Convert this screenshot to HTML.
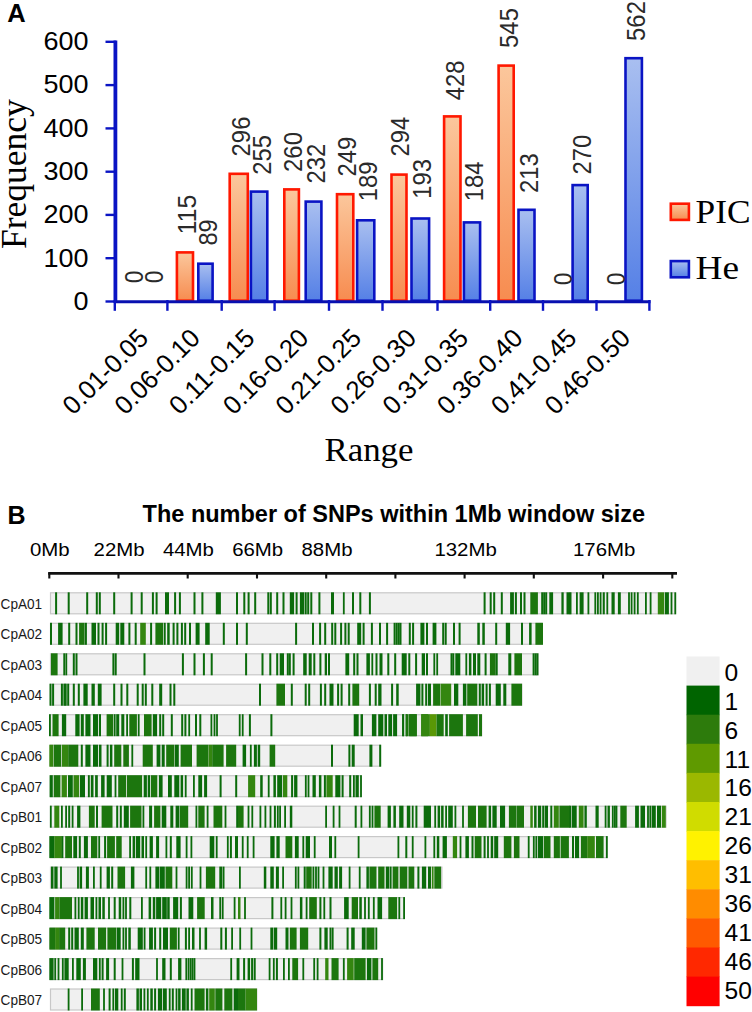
<!DOCTYPE html><html><head><meta charset="utf-8"><style>
html,body{margin:0;padding:0;background:#fff;width:752px;height:1012px;overflow:hidden}
svg{display:block;font-family:"Liberation Sans", sans-serif}
svg text{}
</style></head><body>
<svg width="752" height="1012" viewBox="0 0 752 1012">
<defs>
<linearGradient id="gO" x1="0" y1="0" x2="0" y2="1"><stop offset="0" stop-color="#fbc79c"/><stop offset="1" stop-color="#f78c50"/></linearGradient>
<linearGradient id="gB" x1="0" y1="0" x2="0" y2="1"><stop offset="0" stop-color="#a9bff0"/><stop offset="1" stop-color="#5580e6"/></linearGradient>
</defs>
<rect width="752" height="1012" fill="#fff"/>

<text x="7.2" y="21.5" font-size="25.5" font-weight="bold">A</text>
<text x="88.6" y="309.8" font-size="25" text-anchor="end" textLength="15.0" lengthAdjust="spacingAndGlyphs">0</text>
<text x="88.6" y="266.5" font-size="25" text-anchor="end" textLength="45.0" lengthAdjust="spacingAndGlyphs">100</text>
<text x="88.6" y="223.2" font-size="25" text-anchor="end" textLength="45.0" lengthAdjust="spacingAndGlyphs">200</text>
<text x="88.6" y="180.0" font-size="25" text-anchor="end" textLength="45.0" lengthAdjust="spacingAndGlyphs">300</text>
<text x="88.6" y="136.7" font-size="25" text-anchor="end" textLength="45.0" lengthAdjust="spacingAndGlyphs">400</text>
<text x="88.6" y="93.4" font-size="25" text-anchor="end" textLength="45.0" lengthAdjust="spacingAndGlyphs">500</text>
<text x="88.6" y="50.1" font-size="25" text-anchor="end" textLength="45.0" lengthAdjust="spacingAndGlyphs">600</text>
<text transform="translate(26.1,249.1) rotate(-90)" font-size="35.5" textLength="150" lengthAdjust="spacingAndGlyphs" font-family="Liberation Serif">Frequency</text>
<rect x="176.9" y="252.4" width="16.1" height="48.3" fill="url(#gO)" stroke="#ff1800" stroke-width="2.6"/>
<rect x="198.3" y="263.7" width="14.3" height="37.0" fill="url(#gB)" stroke="#0a14c4" stroke-width="2.6"/>
<rect x="229.7" y="173.8" width="18.1" height="126.9" fill="url(#gO)" stroke="#ff1800" stroke-width="2.6"/>
<rect x="250.9" y="191.6" width="16.4" height="109.1" fill="url(#gB)" stroke="#0a14c4" stroke-width="2.6"/>
<rect x="284.3" y="189.4" width="14.6" height="111.3" fill="url(#gO)" stroke="#ff1800" stroke-width="2.6"/>
<rect x="305.7" y="201.6" width="15.7" height="99.1" fill="url(#gB)" stroke="#0a14c4" stroke-width="2.6"/>
<rect x="337.0" y="194.2" width="16.3" height="106.5" fill="url(#gO)" stroke="#ff1800" stroke-width="2.6"/>
<rect x="357.1" y="220.3" width="17.2" height="80.4" fill="url(#gB)" stroke="#0a14c4" stroke-width="2.6"/>
<rect x="391.5" y="174.6" width="15.0" height="126.1" fill="url(#gO)" stroke="#ff1800" stroke-width="2.6"/>
<rect x="411.5" y="218.5" width="17.6" height="82.2" fill="url(#gB)" stroke="#0a14c4" stroke-width="2.6"/>
<rect x="444.1" y="116.4" width="16.4" height="184.3" fill="url(#gO)" stroke="#ff1800" stroke-width="2.6"/>
<rect x="463.9" y="222.4" width="16.2" height="78.3" fill="url(#gB)" stroke="#0a14c4" stroke-width="2.6"/>
<rect x="498.6" y="65.6" width="15.1" height="235.1" fill="url(#gO)" stroke="#ff1800" stroke-width="2.6"/>
<rect x="518.5" y="209.8" width="16.0" height="90.9" fill="url(#gB)" stroke="#0a14c4" stroke-width="2.6"/>
<rect x="572.6" y="185.1" width="15.1" height="115.6" fill="url(#gB)" stroke="#0a14c4" stroke-width="2.6"/>
<rect x="625.5" y="58.2" width="16.4" height="242.5" fill="url(#gB)" stroke="#0a14c4" stroke-width="2.6"/>
<text transform="translate(142.8,283.3) rotate(-90)" font-size="25" fill="#2a2a2a" textLength="12.6" lengthAdjust="spacingAndGlyphs">0</text>
<text transform="translate(162.7,283.3) rotate(-90)" font-size="25" fill="#2a2a2a" textLength="12.6" lengthAdjust="spacingAndGlyphs">0</text>
<text transform="translate(195.5,234.5) rotate(-90)" font-size="25" fill="#2a2a2a" textLength="39.8" lengthAdjust="spacingAndGlyphs">115</text>
<text transform="translate(217.1,245.6) rotate(-90)" font-size="25" fill="#2a2a2a" textLength="26.2" lengthAdjust="spacingAndGlyphs">89</text>
<text transform="translate(249.7,156.4) rotate(-90)" font-size="25" fill="#2a2a2a" textLength="39.8" lengthAdjust="spacingAndGlyphs">296</text>
<text transform="translate(271.0,174.7) rotate(-90)" font-size="25" fill="#2a2a2a" textLength="39.8" lengthAdjust="spacingAndGlyphs">255</text>
<text transform="translate(302.1,171.9) rotate(-90)" font-size="25" fill="#2a2a2a" textLength="39.8" lengthAdjust="spacingAndGlyphs">260</text>
<text transform="translate(324.5,183.6) rotate(-90)" font-size="25" fill="#2a2a2a" textLength="39.8" lengthAdjust="spacingAndGlyphs">232</text>
<text transform="translate(356.4,176.5) rotate(-90)" font-size="25" fill="#2a2a2a" textLength="39.8" lengthAdjust="spacingAndGlyphs">249</text>
<text transform="translate(376.7,201.2) rotate(-90)" font-size="25" fill="#2a2a2a" textLength="39.8" lengthAdjust="spacingAndGlyphs">189</text>
<text transform="translate(409.4,156.5) rotate(-90)" font-size="25" fill="#2a2a2a" textLength="39.8" lengthAdjust="spacingAndGlyphs">294</text>
<text transform="translate(431.1,198.8) rotate(-90)" font-size="25" fill="#2a2a2a" textLength="39.8" lengthAdjust="spacingAndGlyphs">193</text>
<text transform="translate(463.7,100.3) rotate(-90)" font-size="25" fill="#2a2a2a" textLength="39.8" lengthAdjust="spacingAndGlyphs">428</text>
<text transform="translate(483.1,201.2) rotate(-90)" font-size="25" fill="#2a2a2a" textLength="39.8" lengthAdjust="spacingAndGlyphs">184</text>
<text transform="translate(518.4,47.9) rotate(-90)" font-size="25" fill="#2a2a2a" textLength="39.8" lengthAdjust="spacingAndGlyphs">545</text>
<text transform="translate(538.1,193.0) rotate(-90)" font-size="25" fill="#2a2a2a" textLength="39.8" lengthAdjust="spacingAndGlyphs">213</text>
<text transform="translate(571.5,285.3) rotate(-90)" font-size="25" fill="#2a2a2a" textLength="12.6" lengthAdjust="spacingAndGlyphs">0</text>
<text transform="translate(591.1,174.6) rotate(-90)" font-size="25" fill="#2a2a2a" textLength="39.8" lengthAdjust="spacingAndGlyphs">270</text>
<text transform="translate(624.7,285.3) rotate(-90)" font-size="25" fill="#2a2a2a" textLength="12.6" lengthAdjust="spacingAndGlyphs">0</text>
<text transform="translate(644.5,40.9) rotate(-90)" font-size="25" fill="#2a2a2a" textLength="39.8" lengthAdjust="spacingAndGlyphs">562</text>
<line x1="115.4" y1="40.6" x2="115.4" y2="303" stroke="#0a14c4" stroke-width="3.8"/>
<line x1="105.5" y1="301.5" x2="116" y2="301.5" stroke="#0a14c4" stroke-width="2.4"/>
<line x1="105.5" y1="258.2" x2="116" y2="258.2" stroke="#0a14c4" stroke-width="2.4"/>
<line x1="105.5" y1="214.9" x2="116" y2="214.9" stroke="#0a14c4" stroke-width="2.4"/>
<line x1="105.5" y1="171.7" x2="116" y2="171.7" stroke="#0a14c4" stroke-width="2.4"/>
<line x1="105.5" y1="128.4" x2="116" y2="128.4" stroke="#0a14c4" stroke-width="2.4"/>
<line x1="105.5" y1="85.1" x2="116" y2="85.1" stroke="#0a14c4" stroke-width="2.4"/>
<line x1="105.5" y1="41.8" x2="116" y2="41.8" stroke="#0a14c4" stroke-width="2.4"/>
<line x1="114" y1="301.8" x2="650.5" y2="301.8" stroke="#0810b0" stroke-width="3"/>
<line x1="114.8" y1="300" x2="114.8" y2="310.8" stroke="#0a14c4" stroke-width="2.4"/>
<line x1="167.4" y1="300" x2="167.4" y2="310.8" stroke="#0a14c4" stroke-width="2.4"/>
<line x1="221.7" y1="300" x2="221.7" y2="310.8" stroke="#0a14c4" stroke-width="2.4"/>
<line x1="274.6" y1="300" x2="274.6" y2="310.8" stroke="#0a14c4" stroke-width="2.4"/>
<line x1="329" y1="300" x2="329" y2="310.8" stroke="#0a14c4" stroke-width="2.4"/>
<line x1="382.5" y1="300" x2="382.5" y2="310.8" stroke="#0a14c4" stroke-width="2.4"/>
<line x1="437.5" y1="300" x2="437.5" y2="310.8" stroke="#0a14c4" stroke-width="2.4"/>
<line x1="490.2" y1="300" x2="490.2" y2="310.8" stroke="#0a14c4" stroke-width="2.4"/>
<line x1="543.0" y1="300" x2="543.0" y2="310.8" stroke="#0a14c4" stroke-width="2.4"/>
<line x1="596.5" y1="300" x2="596.5" y2="310.8" stroke="#0a14c4" stroke-width="2.4"/>
<line x1="649.4" y1="300" x2="649.4" y2="310.8" stroke="#0a14c4" stroke-width="2.4"/>
<text transform="translate(149.7,339.7) rotate(-45)" font-size="26" text-anchor="end" textLength="108" lengthAdjust="spacingAndGlyphs">0.01-0.05</text>
<text transform="translate(201.6,339.7) rotate(-45)" font-size="26" text-anchor="end" textLength="108" lengthAdjust="spacingAndGlyphs">0.06-0.10</text>
<text transform="translate(256.2,339.7) rotate(-45)" font-size="26" text-anchor="end" textLength="108" lengthAdjust="spacingAndGlyphs">0.11-0.15</text>
<text transform="translate(310.0,339.7) rotate(-45)" font-size="26" text-anchor="end" textLength="108" lengthAdjust="spacingAndGlyphs">0.16-0.20</text>
<text transform="translate(362.7,339.7) rotate(-45)" font-size="26" text-anchor="end" textLength="108" lengthAdjust="spacingAndGlyphs">0.21-0.25</text>
<text transform="translate(417.7,339.7) rotate(-45)" font-size="26" text-anchor="end" textLength="108" lengthAdjust="spacingAndGlyphs">0.26-0.30</text>
<text transform="translate(469.7,339.7) rotate(-45)" font-size="26" text-anchor="end" textLength="108" lengthAdjust="spacingAndGlyphs">0.31-0.35</text>
<text transform="translate(524.2,339.7) rotate(-45)" font-size="26" text-anchor="end" textLength="108" lengthAdjust="spacingAndGlyphs">0.36-0.40</text>
<text transform="translate(578.0,339.7) rotate(-45)" font-size="26" text-anchor="end" textLength="108" lengthAdjust="spacingAndGlyphs">0.41-0.45</text>
<text transform="translate(631.9,339.7) rotate(-45)" font-size="26" text-anchor="end" textLength="108" lengthAdjust="spacingAndGlyphs">0.46-0.50</text>
<text x="324.5" y="461" font-size="34" font-family="Liberation Serif" textLength="89" lengthAdjust="spacingAndGlyphs">Range</text>
<rect x="670.8" y="203.7" width="18.1" height="16.2" fill="url(#gO)" stroke="#ff1800" stroke-width="2.6"/>
<rect x="670.8" y="261.1" width="18.1" height="16.2" fill="url(#gB)" stroke="#0a14c4" stroke-width="2.6"/>
<text x="695.5" y="223.1" font-size="33.7" font-family="Liberation Serif" textLength="55" lengthAdjust="spacingAndGlyphs">PIC</text>
<text x="695.5" y="278.9" font-size="33.7" font-family="Liberation Serif" textLength="43.5" lengthAdjust="spacingAndGlyphs">He</text>
<text x="7.4" y="524" font-size="25" font-weight="bold">B</text>
<text x="142.6" y="522" font-size="23.5" font-weight="bold" textLength="502.6" lengthAdjust="spacingAndGlyphs">The number of SNPs within 1Mb window size</text>
<text x="49.8" y="555.6" font-size="18.3" text-anchor="middle" textLength="39.7" lengthAdjust="spacingAndGlyphs">0Mb</text>
<text x="119.1" y="555.6" font-size="18.3" text-anchor="middle" textLength="51.0" lengthAdjust="spacingAndGlyphs">22Mb</text>
<text x="188.4" y="555.6" font-size="18.3" text-anchor="middle" textLength="51.0" lengthAdjust="spacingAndGlyphs">44Mb</text>
<text x="257.7" y="555.6" font-size="18.3" text-anchor="middle" textLength="51.0" lengthAdjust="spacingAndGlyphs">66Mb</text>
<text x="327.0" y="555.6" font-size="18.3" text-anchor="middle" textLength="51.0" lengthAdjust="spacingAndGlyphs">88Mb</text>
<text x="465.6" y="555.6" font-size="18.3" text-anchor="middle" textLength="62.4" lengthAdjust="spacingAndGlyphs">132Mb</text>
<text x="604.2" y="555.6" font-size="18.3" text-anchor="middle" textLength="62.4" lengthAdjust="spacingAndGlyphs">176Mb</text>
<line x1="48.2" y1="573.3" x2="677" y2="573.3" stroke="#111" stroke-width="2.7"/>
<line x1="49.3" y1="572.5" x2="49.3" y2="578.5" stroke="#111" stroke-width="2.1"/>
<line x1="118.5" y1="572.5" x2="118.5" y2="578.5" stroke="#111" stroke-width="2.1"/>
<line x1="187.7" y1="572.5" x2="187.7" y2="578.5" stroke="#111" stroke-width="2.1"/>
<line x1="257.0" y1="572.5" x2="257.0" y2="578.5" stroke="#111" stroke-width="2.1"/>
<line x1="326.2" y1="572.5" x2="326.2" y2="578.5" stroke="#111" stroke-width="2.1"/>
<line x1="395.4" y1="572.5" x2="395.4" y2="578.5" stroke="#111" stroke-width="2.1"/>
<line x1="464.6" y1="572.5" x2="464.6" y2="578.5" stroke="#111" stroke-width="2.1"/>
<line x1="533.8" y1="572.5" x2="533.8" y2="578.5" stroke="#111" stroke-width="2.1"/>
<line x1="603.1" y1="572.5" x2="603.1" y2="578.5" stroke="#111" stroke-width="2.1"/>
<line x1="672.3" y1="572.5" x2="672.3" y2="578.5" stroke="#111" stroke-width="2.1"/>
<text x="0.6" y="608.7" font-size="14.2" fill="#1a1a1a" textLength="41.6" lengthAdjust="spacingAndGlyphs">CpA01</text>
<rect x="50.5" y="592.8" width="624.6" height="21" fill="#f0f0f0" stroke="#c8c8c8" stroke-width="1.2"/>
<rect x="55.1" y="592.3" width="2.0" height="22" fill="#0b6b0b"/>
<rect x="67.7" y="592.3" width="2.0" height="22" fill="#0b6b0b"/>
<rect x="86.2" y="592.3" width="2.0" height="22" fill="#0b6b0b"/>
<rect x="95.8" y="592.3" width="2.0" height="22" fill="#0b6b0b"/>
<rect x="98.8" y="592.3" width="2.0" height="22" fill="#0b6b0b"/>
<rect x="113.2" y="592.3" width="2.0" height="22" fill="#0b6b0b"/>
<rect x="130.6" y="592.3" width="2.0" height="22" fill="#0b6b0b"/>
<rect x="140.7" y="592.3" width="2.0" height="22" fill="#0b6b0b"/>
<rect x="151.9" y="592.3" width="2.0" height="22" fill="#0b6b0b"/>
<rect x="155.6" y="592.3" width="2.0" height="22" fill="#0b6b0b"/>
<rect x="165.0" y="592.3" width="2.0" height="22" fill="#0b6b0b"/>
<rect x="167.0" y="592.3" width="2.0" height="22" fill="#0b6b0b"/>
<rect x="174.1" y="592.3" width="2.0" height="22" fill="#0b6b0b"/>
<rect x="178.9" y="592.3" width="2.0" height="22" fill="#0b6b0b"/>
<rect x="193.5" y="592.3" width="2.0" height="22" fill="#0b6b0b"/>
<rect x="201.4" y="592.3" width="2.0" height="22" fill="#0b6b0b"/>
<rect x="215.8" y="592.3" width="5.1" height="22" fill="#0b6b0b"/>
<rect x="236.0" y="592.3" width="2.0" height="22" fill="#0b6b0b"/>
<rect x="243.3" y="592.3" width="2.0" height="22" fill="#0b6b0b"/>
<rect x="247.6" y="592.3" width="2.0" height="22" fill="#0b6b0b"/>
<rect x="254.2" y="592.3" width="2.0" height="22" fill="#0b6b0b"/>
<rect x="267.3" y="592.3" width="2.0" height="22" fill="#0b6b0b"/>
<rect x="269.8" y="592.3" width="2.0" height="22" fill="#0b6b0b"/>
<rect x="276.2" y="592.3" width="2.0" height="22" fill="#0b6b0b"/>
<rect x="282.5" y="592.3" width="2.0" height="22" fill="#0b6b0b"/>
<rect x="289.8" y="592.3" width="4.3" height="22" fill="#0b6b0b"/>
<rect x="295.6" y="592.3" width="2.0" height="22" fill="#0b6b0b"/>
<rect x="299.9" y="592.3" width="4.3" height="22" fill="#0b6b0b"/>
<rect x="304.7" y="592.3" width="2.0" height="22" fill="#0b6b0b"/>
<rect x="307.2" y="592.3" width="2.0" height="22" fill="#0b6b0b"/>
<rect x="310.3" y="592.3" width="2.0" height="22" fill="#0b6b0b"/>
<rect x="318.4" y="592.3" width="2.0" height="22" fill="#0b6b0b"/>
<rect x="331.0" y="592.3" width="3.0" height="22" fill="#0b6b0b"/>
<rect x="342.9" y="592.3" width="1.8" height="22" fill="#0b6b0b"/>
<rect x="352.0" y="592.3" width="2.0" height="22" fill="#0b6b0b"/>
<rect x="359.3" y="592.3" width="2.0" height="22" fill="#0b6b0b"/>
<rect x="368.9" y="592.3" width="2.0" height="22" fill="#0b6b0b"/>
<rect x="483.6" y="592.3" width="2.0" height="22" fill="#0b6b0b"/>
<rect x="489.7" y="592.3" width="2.0" height="22" fill="#0b6b0b"/>
<rect x="493.2" y="592.3" width="2.0" height="22" fill="#0b6b0b"/>
<rect x="500.8" y="592.3" width="2.0" height="22" fill="#0b6b0b"/>
<rect x="510.1" y="592.3" width="3.8" height="22" fill="#0b6b0b"/>
<rect x="514.9" y="592.3" width="2.0" height="22" fill="#0b6b0b"/>
<rect x="520.0" y="592.3" width="2.0" height="22" fill="#0b6b0b"/>
<rect x="523.5" y="592.3" width="2.0" height="22" fill="#0b6b0b"/>
<rect x="530.3" y="592.3" width="7.6" height="22" fill="#1c760e"/>
<rect x="541.2" y="592.3" width="2.0" height="22" fill="#0b6b0b"/>
<rect x="543.2" y="592.3" width="2.0" height="22" fill="#0b6b0b"/>
<rect x="545.2" y="592.3" width="2.0" height="22" fill="#0b6b0b"/>
<rect x="549.3" y="592.3" width="3.8" height="22" fill="#0b6b0b"/>
<rect x="561.4" y="592.3" width="2.3" height="22" fill="#0b6b0b"/>
<rect x="566.5" y="592.3" width="3.8" height="22" fill="#0b6b0b"/>
<rect x="569.7" y="592.3" width="1.8" height="22" fill="#0b6b0b"/>
<rect x="576.0" y="592.3" width="1.8" height="22" fill="#0b6b0b"/>
<rect x="579.6" y="592.3" width="4.0" height="22" fill="#0b6b0b"/>
<rect x="587.5" y="592.3" width="1.8" height="22" fill="#0b6b0b"/>
<rect x="594.4" y="592.3" width="1.8" height="22" fill="#0b6b0b"/>
<rect x="597.0" y="592.3" width="1.8" height="22" fill="#0b6b0b"/>
<rect x="599.7" y="592.3" width="1.8" height="22" fill="#0b6b0b"/>
<rect x="602.7" y="592.3" width="2.1" height="22" fill="#0b6b0b"/>
<rect x="606.4" y="592.3" width="1.8" height="22" fill="#0b6b0b"/>
<rect x="611.5" y="592.3" width="3.2" height="22" fill="#0b6b0b"/>
<rect x="617.9" y="592.3" width="2.9" height="22" fill="#0b6b0b"/>
<rect x="628.1" y="592.3" width="1.8" height="22" fill="#0b6b0b"/>
<rect x="630.7" y="592.3" width="1.8" height="22" fill="#0b6b0b"/>
<rect x="633.7" y="592.3" width="1.8" height="22" fill="#0b6b0b"/>
<rect x="636.9" y="592.3" width="1.8" height="22" fill="#0b6b0b"/>
<rect x="645.0" y="592.3" width="1.8" height="22" fill="#0b6b0b"/>
<rect x="649.7" y="592.3" width="1.8" height="22" fill="#0b6b0b"/>
<rect x="657.8" y="592.3" width="6.4" height="22" fill="#348610"/>
<rect x="664.9" y="592.3" width="4.0" height="22" fill="#0b6b0b"/>
<rect x="670.6" y="592.3" width="1.8" height="22" fill="#0b6b0b"/>
<rect x="674.4" y="592.3" width="1.8" height="22" fill="#0b6b0b"/>
<text x="0.6" y="639.2" font-size="14.2" fill="#1a1a1a" textLength="41.6" lengthAdjust="spacingAndGlyphs">CpA02</text>
<rect x="50.5" y="623.3" width="491.5" height="21" fill="#f0f0f0" stroke="#c8c8c8" stroke-width="1.2"/>
<rect x="50.0" y="622.8" width="2.0" height="22" fill="#0b6b0b"/>
<rect x="58.1" y="622.8" width="4.5" height="22" fill="#0b6b0b"/>
<rect x="68.2" y="622.8" width="2.0" height="22" fill="#0b6b0b"/>
<rect x="75.5" y="622.8" width="2.0" height="22" fill="#0b6b0b"/>
<rect x="79.1" y="622.8" width="5.5" height="22" fill="#1c760e"/>
<rect x="84.9" y="622.8" width="2.0" height="22" fill="#0b6b0b"/>
<rect x="91.5" y="622.8" width="4.5" height="22" fill="#0b6b0b"/>
<rect x="97.5" y="622.8" width="2.0" height="22" fill="#0b6b0b"/>
<rect x="101.6" y="622.8" width="2.0" height="22" fill="#0b6b0b"/>
<rect x="105.1" y="622.8" width="2.0" height="22" fill="#0b6b0b"/>
<rect x="115.7" y="622.8" width="3.5" height="22" fill="#0b6b0b"/>
<rect x="120.3" y="622.8" width="4.0" height="22" fill="#0b6b0b"/>
<rect x="128.4" y="622.8" width="2.0" height="22" fill="#0b6b0b"/>
<rect x="134.7" y="622.8" width="2.0" height="22" fill="#0b6b0b"/>
<rect x="140.2" y="622.8" width="5.6" height="22" fill="#348610"/>
<rect x="150.1" y="622.8" width="2.0" height="22" fill="#0b6b0b"/>
<rect x="155.4" y="622.8" width="7.6" height="22" fill="#1c760e"/>
<rect x="163.7" y="622.8" width="2.0" height="22" fill="#0b6b0b"/>
<rect x="167.2" y="622.8" width="2.5" height="22" fill="#0b6b0b"/>
<rect x="172.6" y="622.8" width="2.0" height="22" fill="#0b6b0b"/>
<rect x="176.4" y="622.8" width="2.0" height="22" fill="#0b6b0b"/>
<rect x="180.9" y="622.8" width="2.0" height="22" fill="#0b6b0b"/>
<rect x="184.2" y="622.8" width="2.0" height="22" fill="#0b6b0b"/>
<rect x="189.0" y="622.8" width="2.0" height="22" fill="#0b6b0b"/>
<rect x="195.6" y="622.8" width="4.0" height="22" fill="#0b6b0b"/>
<rect x="205.2" y="622.8" width="4.5" height="22" fill="#0b6b0b"/>
<rect x="222.8" y="622.8" width="2.0" height="22" fill="#0b6b0b"/>
<rect x="236.0" y="622.8" width="2.0" height="22" fill="#0b6b0b"/>
<rect x="245.8" y="622.8" width="2.0" height="22" fill="#0b6b0b"/>
<rect x="295.1" y="622.8" width="2.0" height="22" fill="#0b6b0b"/>
<rect x="312.0" y="622.8" width="2.0" height="22" fill="#0b6b0b"/>
<rect x="319.1" y="622.8" width="2.0" height="22" fill="#0b6b0b"/>
<rect x="324.2" y="622.8" width="2.0" height="22" fill="#0b6b0b"/>
<rect x="331.2" y="622.8" width="2.0" height="22" fill="#0b6b0b"/>
<rect x="334.3" y="622.8" width="2.0" height="22" fill="#0b6b0b"/>
<rect x="340.1" y="622.8" width="2.0" height="22" fill="#0b6b0b"/>
<rect x="344.4" y="622.8" width="2.0" height="22" fill="#0b6b0b"/>
<rect x="347.7" y="622.8" width="2.0" height="22" fill="#0b6b0b"/>
<rect x="357.2" y="622.8" width="4.0" height="22" fill="#0b6b0b"/>
<rect x="362.6" y="622.8" width="2.0" height="22" fill="#0b6b0b"/>
<rect x="370.9" y="622.8" width="2.0" height="22" fill="#0b6b0b"/>
<rect x="379.0" y="622.8" width="2.0" height="22" fill="#0b6b0b"/>
<rect x="386.1" y="622.8" width="2.0" height="22" fill="#0b6b0b"/>
<rect x="393.6" y="622.8" width="2.0" height="22" fill="#0b6b0b"/>
<rect x="395.7" y="622.8" width="2.0" height="22" fill="#0b6b0b"/>
<rect x="397.7" y="622.8" width="2.0" height="22" fill="#0b6b0b"/>
<rect x="399.5" y="622.8" width="2.0" height="22" fill="#0b6b0b"/>
<rect x="408.8" y="622.8" width="2.0" height="22" fill="#0b6b0b"/>
<rect x="412.1" y="622.8" width="2.0" height="22" fill="#0b6b0b"/>
<rect x="420.4" y="622.8" width="4.0" height="22" fill="#0b6b0b"/>
<rect x="426.0" y="622.8" width="2.0" height="22" fill="#0b6b0b"/>
<rect x="432.6" y="622.8" width="3.8" height="22" fill="#0b6b0b"/>
<rect x="442.2" y="622.8" width="2.0" height="22" fill="#0b6b0b"/>
<rect x="444.7" y="622.8" width="2.0" height="22" fill="#0b6b0b"/>
<rect x="453.0" y="622.8" width="2.0" height="22" fill="#0b6b0b"/>
<rect x="458.6" y="622.8" width="2.0" height="22" fill="#0b6b0b"/>
<rect x="477.3" y="622.8" width="2.5" height="22" fill="#0b6b0b"/>
<rect x="482.3" y="622.8" width="2.5" height="22" fill="#0b6b0b"/>
<rect x="495.2" y="622.8" width="2.0" height="22" fill="#0b6b0b"/>
<rect x="505.8" y="622.8" width="4.3" height="22" fill="#0b6b0b"/>
<rect x="521.0" y="622.8" width="2.0" height="22" fill="#0b6b0b"/>
<rect x="529.1" y="622.8" width="2.5" height="22" fill="#0b6b0b"/>
<rect x="535.4" y="622.8" width="7.6" height="22" fill="#1c760e"/>
<text x="0.6" y="669.7" font-size="14.2" fill="#1a1a1a" textLength="41.6" lengthAdjust="spacingAndGlyphs">CpA03</text>
<rect x="50.5" y="653.8" width="487.7" height="21" fill="#f0f0f0" stroke="#c8c8c8" stroke-width="1.2"/>
<rect x="51.0" y="653.3" width="6.6" height="22" fill="#1c760e"/>
<rect x="63.3" y="653.3" width="1.8" height="22" fill="#0b6b0b"/>
<rect x="65.4" y="653.3" width="1.8" height="22" fill="#0b6b0b"/>
<rect x="72.8" y="653.3" width="2.0" height="22" fill="#0b6b0b"/>
<rect x="75.5" y="653.3" width="2.0" height="22" fill="#0b6b0b"/>
<rect x="112.4" y="653.3" width="2.0" height="22" fill="#0b6b0b"/>
<rect x="114.7" y="653.3" width="2.0" height="22" fill="#0b6b0b"/>
<rect x="143.5" y="653.3" width="2.0" height="22" fill="#0b6b0b"/>
<rect x="181.9" y="653.3" width="2.0" height="22" fill="#0b6b0b"/>
<rect x="193.5" y="653.3" width="2.0" height="22" fill="#0b6b0b"/>
<rect x="202.9" y="653.3" width="2.0" height="22" fill="#0b6b0b"/>
<rect x="210.7" y="653.3" width="2.0" height="22" fill="#0b6b0b"/>
<rect x="245.1" y="653.3" width="2.0" height="22" fill="#0b6b0b"/>
<rect x="261.5" y="653.3" width="2.0" height="22" fill="#0b6b0b"/>
<rect x="269.3" y="653.3" width="2.0" height="22" fill="#0b6b0b"/>
<rect x="276.2" y="653.3" width="2.0" height="22" fill="#0b6b0b"/>
<rect x="279.7" y="653.3" width="4.3" height="22" fill="#0b6b0b"/>
<rect x="286.8" y="653.3" width="2.0" height="22" fill="#0b6b0b"/>
<rect x="288.8" y="653.3" width="2.0" height="22" fill="#0b6b0b"/>
<rect x="292.6" y="653.3" width="2.0" height="22" fill="#0b6b0b"/>
<rect x="303.2" y="653.3" width="3.5" height="22" fill="#0b6b0b"/>
<rect x="308.7" y="653.3" width="3.0" height="22" fill="#0b6b0b"/>
<rect x="313.3" y="653.3" width="2.0" height="22" fill="#0b6b0b"/>
<rect x="319.4" y="653.3" width="2.0" height="22" fill="#0b6b0b"/>
<rect x="324.7" y="653.3" width="2.3" height="22" fill="#0b6b0b"/>
<rect x="328.0" y="653.3" width="2.0" height="22" fill="#0b6b0b"/>
<rect x="345.4" y="653.3" width="3.8" height="22" fill="#0b6b0b"/>
<rect x="353.2" y="653.3" width="2.0" height="22" fill="#0b6b0b"/>
<rect x="356.5" y="653.3" width="2.0" height="22" fill="#0b6b0b"/>
<rect x="366.4" y="653.3" width="3.5" height="22" fill="#0b6b0b"/>
<rect x="371.4" y="653.3" width="1.8" height="22" fill="#0b6b0b"/>
<rect x="375.5" y="653.3" width="2.0" height="22" fill="#0b6b0b"/>
<rect x="379.5" y="653.3" width="3.0" height="22" fill="#0b6b0b"/>
<rect x="387.3" y="653.3" width="2.0" height="22" fill="#0b6b0b"/>
<rect x="394.2" y="653.3" width="2.0" height="22" fill="#0b6b0b"/>
<rect x="401.7" y="653.3" width="5.0" height="22" fill="#0b6b0b"/>
<rect x="408.3" y="653.3" width="2.0" height="22" fill="#0b6b0b"/>
<rect x="415.1" y="653.3" width="2.0" height="22" fill="#0b6b0b"/>
<rect x="421.7" y="653.3" width="3.3" height="22" fill="#0b6b0b"/>
<rect x="426.0" y="653.3" width="2.0" height="22" fill="#0b6b0b"/>
<rect x="433.4" y="653.3" width="1.8" height="22" fill="#0b6b0b"/>
<rect x="436.3" y="653.3" width="1.8" height="22" fill="#0b6b0b"/>
<rect x="450.5" y="653.3" width="2.0" height="22" fill="#0b6b0b"/>
<rect x="452.3" y="653.3" width="2.0" height="22" fill="#0b6b0b"/>
<rect x="455.3" y="653.3" width="5.0" height="22" fill="#0b6b0b"/>
<rect x="465.4" y="653.3" width="1.8" height="22" fill="#0b6b0b"/>
<rect x="468.9" y="653.3" width="2.5" height="22" fill="#0b6b0b"/>
<rect x="473.0" y="653.3" width="3.0" height="22" fill="#0b6b0b"/>
<rect x="477.3" y="653.3" width="3.0" height="22" fill="#0b6b0b"/>
<rect x="484.6" y="653.3" width="2.0" height="22" fill="#0b6b0b"/>
<rect x="489.9" y="653.3" width="5.8" height="22" fill="#1c760e"/>
<rect x="495.7" y="653.3" width="2.0" height="22" fill="#0b6b0b"/>
<rect x="508.3" y="653.3" width="3.0" height="22" fill="#0b6b0b"/>
<rect x="514.4" y="653.3" width="7.6" height="22" fill="#1c760e"/>
<rect x="532.6" y="653.3" width="2.0" height="22" fill="#0b6b0b"/>
<rect x="534.6" y="653.3" width="2.0" height="22" fill="#0b6b0b"/>
<rect x="536.4" y="653.3" width="2.0" height="22" fill="#0b6b0b"/>
<text x="0.6" y="700.1" font-size="14.2" fill="#1a1a1a" textLength="41.6" lengthAdjust="spacingAndGlyphs">CpA04</text>
<rect x="50.5" y="684.2" width="471.4" height="21" fill="#f0f0f0" stroke="#c8c8c8" stroke-width="1.2"/>
<rect x="49.5" y="683.7" width="2.0" height="22" fill="#0b6b0b"/>
<rect x="52.1" y="683.7" width="2.0" height="22" fill="#0b6b0b"/>
<rect x="60.9" y="683.7" width="2.0" height="22" fill="#0b6b0b"/>
<rect x="63.4" y="683.7" width="2.0" height="22" fill="#0b6b0b"/>
<rect x="64.7" y="683.7" width="2.0" height="22" fill="#0b6b0b"/>
<rect x="67.2" y="683.7" width="2.0" height="22" fill="#0b6b0b"/>
<rect x="72.8" y="683.7" width="2.0" height="22" fill="#0b6b0b"/>
<rect x="77.8" y="683.7" width="2.0" height="22" fill="#0b6b0b"/>
<rect x="83.4" y="683.7" width="4.3" height="22" fill="#0b6b0b"/>
<rect x="91.5" y="683.7" width="3.3" height="22" fill="#0b6b0b"/>
<rect x="97.8" y="683.7" width="3.8" height="22" fill="#0b6b0b"/>
<rect x="113.2" y="683.7" width="2.0" height="22" fill="#0b6b0b"/>
<rect x="120.5" y="683.7" width="2.0" height="22" fill="#0b6b0b"/>
<rect x="126.3" y="683.7" width="2.0" height="22" fill="#0b6b0b"/>
<rect x="136.7" y="683.7" width="2.0" height="22" fill="#0b6b0b"/>
<rect x="141.7" y="683.7" width="2.0" height="22" fill="#0b6b0b"/>
<rect x="144.8" y="683.7" width="2.0" height="22" fill="#0b6b0b"/>
<rect x="151.3" y="683.7" width="2.0" height="22" fill="#0b6b0b"/>
<rect x="159.2" y="683.7" width="3.0" height="22" fill="#0b6b0b"/>
<rect x="169.5" y="683.7" width="2.0" height="22" fill="#0b6b0b"/>
<rect x="173.3" y="683.7" width="2.0" height="22" fill="#0b6b0b"/>
<rect x="259.0" y="683.7" width="2.0" height="22" fill="#0b6b0b"/>
<rect x="276.4" y="683.7" width="8.6" height="22" fill="#1c760e"/>
<rect x="290.8" y="683.7" width="2.0" height="22" fill="#0b6b0b"/>
<rect x="304.7" y="683.7" width="2.0" height="22" fill="#0b6b0b"/>
<rect x="308.2" y="683.7" width="2.0" height="22" fill="#0b6b0b"/>
<rect x="319.9" y="683.7" width="2.0" height="22" fill="#0b6b0b"/>
<rect x="324.2" y="683.7" width="2.0" height="22" fill="#0b6b0b"/>
<rect x="329.5" y="683.7" width="4.0" height="22" fill="#0b6b0b"/>
<rect x="337.1" y="683.7" width="2.0" height="22" fill="#0b6b0b"/>
<rect x="340.6" y="683.7" width="2.0" height="22" fill="#0b6b0b"/>
<rect x="348.2" y="683.7" width="2.0" height="22" fill="#0b6b0b"/>
<rect x="352.4" y="683.7" width="6.8" height="22" fill="#1c760e"/>
<rect x="368.9" y="683.7" width="2.0" height="22" fill="#0b6b0b"/>
<rect x="374.7" y="683.7" width="2.0" height="22" fill="#0b6b0b"/>
<rect x="378.2" y="683.7" width="3.3" height="22" fill="#0b6b0b"/>
<rect x="391.1" y="683.7" width="2.0" height="22" fill="#0b6b0b"/>
<rect x="396.2" y="683.7" width="2.5" height="22" fill="#0b6b0b"/>
<rect x="416.1" y="683.7" width="4.3" height="22" fill="#0b6b0b"/>
<rect x="421.4" y="683.7" width="2.0" height="22" fill="#0b6b0b"/>
<rect x="425.2" y="683.7" width="2.0" height="22" fill="#0b6b0b"/>
<rect x="428.0" y="683.7" width="3.0" height="22" fill="#0b6b0b"/>
<rect x="433.1" y="683.7" width="7.1" height="22" fill="#1c760e"/>
<rect x="440.6" y="683.7" width="10.6" height="22" fill="#348610"/>
<rect x="454.0" y="683.7" width="4.3" height="22" fill="#0b6b0b"/>
<rect x="462.9" y="683.7" width="3.5" height="22" fill="#0b6b0b"/>
<rect x="467.2" y="683.7" width="10.1" height="22" fill="#1c760e"/>
<rect x="478.8" y="683.7" width="2.0" height="22" fill="#0b6b0b"/>
<rect x="481.6" y="683.7" width="2.5" height="22" fill="#0b6b0b"/>
<rect x="485.6" y="683.7" width="2.0" height="22" fill="#0b6b0b"/>
<rect x="488.9" y="683.7" width="2.0" height="22" fill="#0b6b0b"/>
<rect x="495.7" y="683.7" width="5.1" height="22" fill="#0b6b0b"/>
<rect x="503.3" y="683.7" width="3.0" height="22" fill="#0b6b0b"/>
<rect x="511.4" y="683.7" width="10.6" height="22" fill="#1c760e"/>
<text x="0.6" y="730.6" font-size="14.2" fill="#1a1a1a" textLength="41.6" lengthAdjust="spacingAndGlyphs">CpA05</text>
<rect x="50.5" y="714.7" width="431.2" height="21" fill="#f0f0f0" stroke="#c8c8c8" stroke-width="1.2"/>
<rect x="49.0" y="714.2" width="1.8" height="22" fill="#0b6b0b"/>
<rect x="52.5" y="714.2" width="6.1" height="22" fill="#1c760e"/>
<rect x="61.9" y="714.2" width="4.3" height="22" fill="#0b6b0b"/>
<rect x="75.3" y="714.2" width="4.3" height="22" fill="#0b6b0b"/>
<rect x="80.8" y="714.2" width="3.0" height="22" fill="#0b6b0b"/>
<rect x="85.4" y="714.2" width="5.1" height="22" fill="#0b6b0b"/>
<rect x="93.0" y="714.2" width="5.1" height="22" fill="#0b6b0b"/>
<rect x="99.0" y="714.2" width="2.0" height="22" fill="#0b6b0b"/>
<rect x="106.6" y="714.2" width="6.6" height="22" fill="#1c760e"/>
<rect x="113.8" y="714.2" width="1.8" height="22" fill="#0b6b0b"/>
<rect x="116.2" y="714.2" width="3.0" height="22" fill="#0b6b0b"/>
<rect x="121.3" y="714.2" width="3.0" height="22" fill="#0b6b0b"/>
<rect x="126.2" y="714.2" width="1.8" height="22" fill="#0b6b0b"/>
<rect x="129.3" y="714.2" width="7.6" height="22" fill="#1c760e"/>
<rect x="137.8" y="714.2" width="1.8" height="22" fill="#0b6b0b"/>
<rect x="144.0" y="714.2" width="7.6" height="22" fill="#1c760e"/>
<rect x="152.8" y="714.2" width="4.3" height="22" fill="#0b6b0b"/>
<rect x="159.2" y="714.2" width="2.0" height="22" fill="#0b6b0b"/>
<rect x="162.2" y="714.2" width="2.0" height="22" fill="#0b6b0b"/>
<rect x="170.8" y="714.2" width="2.0" height="22" fill="#0b6b0b"/>
<rect x="181.2" y="714.2" width="2.0" height="22" fill="#0b6b0b"/>
<rect x="184.4" y="714.2" width="2.0" height="22" fill="#0b6b0b"/>
<rect x="188.3" y="714.2" width="1.8" height="22" fill="#0b6b0b"/>
<rect x="195.0" y="714.2" width="2.0" height="22" fill="#0b6b0b"/>
<rect x="199.3" y="714.2" width="2.0" height="22" fill="#0b6b0b"/>
<rect x="210.5" y="714.2" width="1.8" height="22" fill="#0b6b0b"/>
<rect x="213.6" y="714.2" width="1.8" height="22" fill="#0b6b0b"/>
<rect x="216.1" y="714.2" width="1.8" height="22" fill="#0b6b0b"/>
<rect x="238.8" y="714.2" width="1.8" height="22" fill="#0b6b0b"/>
<rect x="241.8" y="714.2" width="1.8" height="22" fill="#0b6b0b"/>
<rect x="248.9" y="714.2" width="2.0" height="22" fill="#0b6b0b"/>
<rect x="270.4" y="714.2" width="2.0" height="22" fill="#0b6b0b"/>
<rect x="353.7" y="714.2" width="5.0" height="22" fill="#0b6b0b"/>
<rect x="360.5" y="714.2" width="2.5" height="22" fill="#0b6b0b"/>
<rect x="371.9" y="714.2" width="4.5" height="22" fill="#0b6b0b"/>
<rect x="378.2" y="714.2" width="5.1" height="22" fill="#0b6b0b"/>
<rect x="384.5" y="714.2" width="2.5" height="22" fill="#0b6b0b"/>
<rect x="388.3" y="714.2" width="3.8" height="22" fill="#0b6b0b"/>
<rect x="393.1" y="714.2" width="4.0" height="22" fill="#0b6b0b"/>
<rect x="402.1" y="714.2" width="1.8" height="22" fill="#0b6b0b"/>
<rect x="405.5" y="714.2" width="1.8" height="22" fill="#0b6b0b"/>
<rect x="408.5" y="714.2" width="8.3" height="22" fill="#1c760e"/>
<rect x="421.2" y="714.2" width="6.8" height="22" fill="#1c760e"/>
<rect x="402.4" y="714.2" width="1.8" height="22" fill="#0b6b0b"/>
<rect x="406.0" y="714.2" width="2.2" height="22" fill="#1c760e"/>
<rect x="409.3" y="714.2" width="7.4" height="22" fill="#1c760e"/>
<rect x="421.3" y="714.2" width="8.6" height="22" fill="#348610"/>
<rect x="429.9" y="714.2" width="6.6" height="22" fill="#5a9806"/>
<rect x="436.5" y="714.2" width="7.2" height="22" fill="#1c760e"/>
<rect x="445.2" y="714.2" width="2.6" height="22" fill="#0b6b0b"/>
<rect x="449.1" y="714.2" width="13.8" height="22" fill="#1c760e"/>
<rect x="466.1" y="714.2" width="11.7" height="22" fill="#1c760e"/>
<rect x="479.0" y="714.2" width="3.0" height="22" fill="#1c760e"/>
<text x="0.6" y="761.1" font-size="14.2" fill="#1a1a1a" textLength="41.6" lengthAdjust="spacingAndGlyphs">CpA06</text>
<rect x="50.5" y="745.2" width="329.7" height="21" fill="#f0f0f0" stroke="#c8c8c8" stroke-width="1.2"/>
<rect x="49.3" y="744.7" width="3.8" height="22" fill="#348610"/>
<rect x="53.6" y="744.7" width="7.6" height="22" fill="#1c760e"/>
<rect x="61.9" y="744.7" width="6.3" height="22" fill="#348610"/>
<rect x="68.2" y="744.7" width="10.1" height="22" fill="#1c760e"/>
<rect x="80.8" y="744.7" width="2.0" height="22" fill="#0b6b0b"/>
<rect x="85.4" y="744.7" width="5.1" height="22" fill="#0b6b0b"/>
<rect x="93.0" y="744.7" width="5.1" height="22" fill="#0b6b0b"/>
<rect x="99.0" y="744.7" width="2.5" height="22" fill="#0b6b0b"/>
<rect x="106.6" y="744.7" width="2.0" height="22" fill="#0b6b0b"/>
<rect x="109.9" y="744.7" width="2.5" height="22" fill="#0b6b0b"/>
<rect x="114.2" y="744.7" width="7.1" height="22" fill="#1c760e"/>
<rect x="123.3" y="744.7" width="5.6" height="22" fill="#1c760e"/>
<rect x="131.4" y="744.7" width="1.8" height="22" fill="#0b6b0b"/>
<rect x="142.7" y="744.7" width="10.1" height="22" fill="#1c760e"/>
<rect x="156.6" y="744.7" width="3.8" height="22" fill="#0b6b0b"/>
<rect x="161.7" y="744.7" width="3.0" height="22" fill="#0b6b0b"/>
<rect x="166.2" y="744.7" width="8.1" height="22" fill="#1c760e"/>
<rect x="174.8" y="744.7" width="4.0" height="22" fill="#0b6b0b"/>
<rect x="180.6" y="744.7" width="11.4" height="22" fill="#1c760e"/>
<rect x="196.6" y="744.7" width="11.9" height="22" fill="#1c760e"/>
<rect x="208.7" y="744.7" width="3.5" height="22" fill="#348610"/>
<rect x="212.2" y="744.7" width="11.4" height="22" fill="#1c760e"/>
<rect x="226.1" y="744.7" width="10.1" height="22" fill="#1c760e"/>
<rect x="242.6" y="744.7" width="3.5" height="22" fill="#0b6b0b"/>
<rect x="249.9" y="744.7" width="1.8" height="22" fill="#0b6b0b"/>
<rect x="253.9" y="744.7" width="3.0" height="22" fill="#0b6b0b"/>
<rect x="257.7" y="744.7" width="2.5" height="22" fill="#0b6b0b"/>
<rect x="269.6" y="744.7" width="5.6" height="22" fill="#1c760e"/>
<rect x="331.0" y="744.7" width="2.0" height="22" fill="#0b6b0b"/>
<rect x="348.4" y="744.7" width="2.0" height="22" fill="#0b6b0b"/>
<rect x="351.7" y="744.7" width="3.0" height="22" fill="#0b6b0b"/>
<rect x="369.4" y="744.7" width="3.0" height="22" fill="#0b6b0b"/>
<rect x="379.2" y="744.7" width="2.0" height="22" fill="#0b6b0b"/>
<text x="0.6" y="791.6" font-size="14.2" fill="#1a1a1a" textLength="41.6" lengthAdjust="spacingAndGlyphs">CpA07</text>
<rect x="50.5" y="775.7" width="310.6" height="21" fill="#f0f0f0" stroke="#c8c8c8" stroke-width="1.2"/>
<rect x="49.6" y="775.2" width="3.2" height="22" fill="#0b6b0b"/>
<rect x="53.7" y="775.2" width="6.7" height="22" fill="#1c760e"/>
<rect x="61.6" y="775.2" width="5.3" height="22" fill="#348610"/>
<rect x="68.0" y="775.2" width="4.8" height="22" fill="#0b6b0b"/>
<rect x="73.5" y="775.2" width="5.6" height="22" fill="#348610"/>
<rect x="79.9" y="775.2" width="5.1" height="22" fill="#0b6b0b"/>
<rect x="87.9" y="775.2" width="1.9" height="22" fill="#0b6b0b"/>
<rect x="90.8" y="775.2" width="2.7" height="22" fill="#0b6b0b"/>
<rect x="95.1" y="775.2" width="2.7" height="22" fill="#0b6b0b"/>
<rect x="101.1" y="775.2" width="3.5" height="22" fill="#0b6b0b"/>
<rect x="106.7" y="775.2" width="5.1" height="22" fill="#0b6b0b"/>
<rect x="114.6" y="775.2" width="1.8" height="22" fill="#0b6b0b"/>
<rect x="118.2" y="775.2" width="8.0" height="22" fill="#1c760e"/>
<rect x="127.0" y="775.2" width="15.1" height="22" fill="#1c760e"/>
<rect x="143.7" y="775.2" width="3.2" height="22" fill="#0b6b0b"/>
<rect x="147.7" y="775.2" width="2.4" height="22" fill="#0b6b0b"/>
<rect x="150.9" y="775.2" width="6.4" height="22" fill="#1c760e"/>
<rect x="158.9" y="775.2" width="3.7" height="22" fill="#0b6b0b"/>
<rect x="168.0" y="775.2" width="3.8" height="22" fill="#0b6b0b"/>
<rect x="174.3" y="775.2" width="5.0" height="22" fill="#0b6b0b"/>
<rect x="180.6" y="775.2" width="2.5" height="22" fill="#0b6b0b"/>
<rect x="184.8" y="775.2" width="1.8" height="22" fill="#0b6b0b"/>
<rect x="193.0" y="775.2" width="1.8" height="22" fill="#0b6b0b"/>
<rect x="198.3" y="775.2" width="3.8" height="22" fill="#0b6b0b"/>
<rect x="204.1" y="775.2" width="3.0" height="22" fill="#0b6b0b"/>
<rect x="219.6" y="775.2" width="2.0" height="22" fill="#0b6b0b"/>
<rect x="235.2" y="775.2" width="2.0" height="22" fill="#0b6b0b"/>
<rect x="248.1" y="775.2" width="7.1" height="22" fill="#348610"/>
<rect x="260.2" y="775.2" width="2.5" height="22" fill="#0b6b0b"/>
<rect x="267.8" y="775.2" width="1.8" height="22" fill="#0b6b0b"/>
<rect x="273.4" y="775.2" width="2.5" height="22" fill="#0b6b0b"/>
<rect x="277.2" y="775.2" width="5.0" height="22" fill="#0b6b0b"/>
<rect x="283.0" y="775.2" width="4.3" height="22" fill="#348610"/>
<rect x="291.1" y="775.2" width="2.0" height="22" fill="#0b6b0b"/>
<rect x="294.1" y="775.2" width="3.3" height="22" fill="#0b6b0b"/>
<rect x="304.9" y="775.2" width="1.8" height="22" fill="#0b6b0b"/>
<rect x="307.6" y="775.2" width="1.8" height="22" fill="#0b6b0b"/>
<rect x="312.5" y="775.2" width="3.3" height="22" fill="#0b6b0b"/>
<rect x="318.9" y="775.2" width="2.5" height="22" fill="#0b6b0b"/>
<rect x="323.9" y="775.2" width="2.0" height="22" fill="#0b6b0b"/>
<rect x="326.4" y="775.2" width="6.3" height="22" fill="#348610"/>
<rect x="335.3" y="775.2" width="5.1" height="22" fill="#0b6b0b"/>
<rect x="341.6" y="775.2" width="2.0" height="22" fill="#0b6b0b"/>
<rect x="349.2" y="775.2" width="2.0" height="22" fill="#0b6b0b"/>
<rect x="353.0" y="775.2" width="1.8" height="22" fill="#0b6b0b"/>
<rect x="355.5" y="775.2" width="3.3" height="22" fill="#0b6b0b"/>
<rect x="360.1" y="775.2" width="1.8" height="22" fill="#0b6b0b"/>
<text x="0.6" y="822.1" font-size="14.2" fill="#1a1a1a" textLength="41.6" lengthAdjust="spacingAndGlyphs">CpB01</text>
<rect x="50.5" y="806.2" width="615.5" height="21" fill="#f0f0f0" stroke="#c8c8c8" stroke-width="1.2"/>
<rect x="49.9" y="805.7" width="1.8" height="22" fill="#0b6b0b"/>
<rect x="54.3" y="805.7" width="5.0" height="22" fill="#348610"/>
<rect x="61.0" y="805.7" width="1.8" height="22" fill="#0b6b0b"/>
<rect x="65.2" y="805.7" width="1.8" height="22" fill="#0b6b0b"/>
<rect x="68.2" y="805.7" width="2.0" height="22" fill="#0b6b0b"/>
<rect x="71.7" y="805.7" width="1.8" height="22" fill="#0b6b0b"/>
<rect x="77.1" y="805.7" width="3.3" height="22" fill="#0b6b0b"/>
<rect x="88.9" y="805.7" width="5.8" height="22" fill="#1c760e"/>
<rect x="96.0" y="805.7" width="2.0" height="22" fill="#0b6b0b"/>
<rect x="101.6" y="805.7" width="10.9" height="22" fill="#1c760e"/>
<rect x="116.2" y="805.7" width="2.0" height="22" fill="#0b6b0b"/>
<rect x="119.8" y="805.7" width="2.0" height="22" fill="#0b6b0b"/>
<rect x="123.8" y="805.7" width="5.0" height="22" fill="#0b6b0b"/>
<rect x="130.1" y="805.7" width="11.4" height="22" fill="#1c760e"/>
<rect x="142.5" y="805.7" width="1.8" height="22" fill="#0b6b0b"/>
<rect x="149.1" y="805.7" width="3.0" height="22" fill="#0b6b0b"/>
<rect x="154.1" y="805.7" width="6.3" height="22" fill="#1c760e"/>
<rect x="161.7" y="805.7" width="4.6" height="22" fill="#0b6b0b"/>
<rect x="170.3" y="805.7" width="3.0" height="22" fill="#0b6b0b"/>
<rect x="175.6" y="805.7" width="3.8" height="22" fill="#0b6b0b"/>
<rect x="179.9" y="805.7" width="8.3" height="22" fill="#1c760e"/>
<rect x="195.5" y="805.7" width="1.8" height="22" fill="#0b6b0b"/>
<rect x="198.3" y="805.7" width="6.3" height="22" fill="#1c760e"/>
<rect x="206.7" y="805.7" width="1.8" height="22" fill="#0b6b0b"/>
<rect x="213.5" y="805.7" width="8.8" height="22" fill="#1c760e"/>
<rect x="224.6" y="805.7" width="1.8" height="22" fill="#0b6b0b"/>
<rect x="236.2" y="805.7" width="1.8" height="22" fill="#0b6b0b"/>
<rect x="238.0" y="805.7" width="5.6" height="22" fill="#1c760e"/>
<rect x="247.6" y="805.7" width="1.8" height="22" fill="#0b6b0b"/>
<rect x="251.4" y="805.7" width="1.8" height="22" fill="#0b6b0b"/>
<rect x="259.5" y="805.7" width="1.8" height="22" fill="#0b6b0b"/>
<rect x="264.5" y="805.7" width="1.8" height="22" fill="#0b6b0b"/>
<rect x="269.6" y="805.7" width="1.8" height="22" fill="#0b6b0b"/>
<rect x="273.9" y="805.7" width="2.0" height="22" fill="#0b6b0b"/>
<rect x="276.9" y="805.7" width="1.8" height="22" fill="#0b6b0b"/>
<rect x="279.2" y="805.7" width="1.8" height="22" fill="#0b6b0b"/>
<rect x="284.2" y="805.7" width="1.8" height="22" fill="#0b6b0b"/>
<rect x="289.8" y="805.7" width="2.5" height="22" fill="#0b6b0b"/>
<rect x="325.2" y="805.7" width="1.8" height="22" fill="#0b6b0b"/>
<rect x="332.7" y="805.7" width="1.8" height="22" fill="#0b6b0b"/>
<rect x="338.6" y="805.7" width="1.8" height="22" fill="#0b6b0b"/>
<rect x="354.7" y="805.7" width="2.0" height="22" fill="#0b6b0b"/>
<rect x="360.5" y="805.7" width="1.8" height="22" fill="#0b6b0b"/>
<rect x="368.9" y="805.7" width="1.8" height="22" fill="#0b6b0b"/>
<rect x="371.6" y="805.7" width="1.8" height="22" fill="#0b6b0b"/>
<rect x="374.4" y="805.7" width="6.3" height="22" fill="#1c760e"/>
<rect x="387.6" y="805.7" width="3.3" height="22" fill="#0b6b0b"/>
<rect x="393.4" y="805.7" width="2.5" height="22" fill="#0b6b0b"/>
<rect x="399.2" y="805.7" width="4.3" height="22" fill="#0b6b0b"/>
<rect x="406.8" y="805.7" width="3.5" height="22" fill="#0b6b0b"/>
<rect x="411.8" y="805.7" width="1.8" height="22" fill="#0b6b0b"/>
<rect x="415.4" y="805.7" width="2.0" height="22" fill="#0b6b0b"/>
<rect x="423.7" y="805.7" width="4.3" height="22" fill="#0b6b0b"/>
<rect x="428.0" y="805.7" width="3.0" height="22" fill="#0b6b0b"/>
<rect x="434.3" y="805.7" width="1.8" height="22" fill="#0b6b0b"/>
<rect x="437.6" y="805.7" width="2.5" height="22" fill="#0b6b0b"/>
<rect x="441.1" y="805.7" width="2.5" height="22" fill="#0b6b0b"/>
<rect x="445.2" y="805.7" width="1.8" height="22" fill="#0b6b0b"/>
<rect x="448.2" y="805.7" width="4.6" height="22" fill="#0b6b0b"/>
<rect x="454.5" y="805.7" width="1.8" height="22" fill="#0b6b0b"/>
<rect x="462.1" y="805.7" width="1.8" height="22" fill="#0b6b0b"/>
<rect x="467.9" y="805.7" width="8.1" height="22" fill="#1c760e"/>
<rect x="478.0" y="805.7" width="8.6" height="22" fill="#1c760e"/>
<rect x="488.6" y="805.7" width="2.5" height="22" fill="#0b6b0b"/>
<rect x="492.4" y="805.7" width="4.3" height="22" fill="#0b6b0b"/>
<rect x="500.0" y="805.7" width="5.1" height="22" fill="#0b6b0b"/>
<rect x="508.9" y="805.7" width="7.1" height="22" fill="#1c760e"/>
<rect x="516.4" y="805.7" width="7.6" height="22" fill="#1c760e"/>
<rect x="530.3" y="805.7" width="2.5" height="22" fill="#348610"/>
<rect x="534.1" y="805.7" width="2.5" height="22" fill="#0b6b0b"/>
<rect x="537.9" y="805.7" width="3.3" height="22" fill="#0b6b0b"/>
<rect x="542.2" y="805.7" width="2.0" height="22" fill="#0b6b0b"/>
<rect x="544.7" y="805.7" width="3.3" height="22" fill="#0b6b0b"/>
<rect x="550.3" y="805.7" width="2.0" height="22" fill="#0b6b0b"/>
<rect x="553.8" y="805.7" width="5.0" height="22" fill="#348610"/>
<rect x="559.4" y="805.7" width="10.6" height="22" fill="#1c760e"/>
<rect x="569.5" y="805.7" width="1.8" height="22" fill="#0b6b0b"/>
<rect x="571.9" y="805.7" width="4.8" height="22" fill="#0b6b0b"/>
<rect x="578.8" y="805.7" width="4.8" height="22" fill="#348610"/>
<rect x="584.4" y="805.7" width="2.4" height="22" fill="#0b6b0b"/>
<rect x="595.5" y="805.7" width="3.2" height="22" fill="#0b6b0b"/>
<rect x="604.7" y="805.7" width="1.8" height="22" fill="#0b6b0b"/>
<rect x="607.5" y="805.7" width="2.4" height="22" fill="#0b6b0b"/>
<rect x="611.9" y="805.7" width="1.8" height="22" fill="#0b6b0b"/>
<rect x="614.0" y="805.7" width="1.8" height="22" fill="#0b6b0b"/>
<rect x="615.6" y="805.7" width="1.8" height="22" fill="#0b6b0b"/>
<rect x="620.3" y="805.7" width="6.4" height="22" fill="#1c760e"/>
<rect x="635.1" y="805.7" width="3.8" height="22" fill="#0b6b0b"/>
<rect x="640.5" y="805.7" width="4.5" height="22" fill="#0b6b0b"/>
<rect x="647.1" y="805.7" width="1.8" height="22" fill="#0b6b0b"/>
<rect x="649.4" y="805.7" width="1.8" height="22" fill="#0b6b0b"/>
<rect x="651.7" y="805.7" width="4.1" height="22" fill="#0b6b0b"/>
<rect x="657.0" y="805.7" width="4.0" height="22" fill="#0b6b0b"/>
<rect x="661.8" y="805.7" width="4.0" height="22" fill="#348610"/>
<text x="0.6" y="852.5" font-size="14.2" fill="#1a1a1a" textLength="41.6" lengthAdjust="spacingAndGlyphs">CpB02</text>
<rect x="50.5" y="836.6" width="556.9" height="21" fill="#f0f0f0" stroke="#c8c8c8" stroke-width="1.2"/>
<rect x="49.3" y="836.1" width="5.1" height="22" fill="#0b6b0b"/>
<rect x="54.3" y="836.1" width="7.6" height="22" fill="#348610"/>
<rect x="61.6" y="836.1" width="1.8" height="22" fill="#0b6b0b"/>
<rect x="65.2" y="836.1" width="6.8" height="22" fill="#1c760e"/>
<rect x="73.3" y="836.1" width="3.8" height="22" fill="#0b6b0b"/>
<rect x="78.8" y="836.1" width="2.0" height="22" fill="#0b6b0b"/>
<rect x="83.9" y="836.1" width="4.0" height="22" fill="#0b6b0b"/>
<rect x="91.0" y="836.1" width="6.3" height="22" fill="#1c760e"/>
<rect x="98.3" y="836.1" width="1.8" height="22" fill="#0b6b0b"/>
<rect x="104.1" y="836.1" width="2.0" height="22" fill="#0b6b0b"/>
<rect x="107.1" y="836.1" width="7.8" height="22" fill="#1c760e"/>
<rect x="116.2" y="836.1" width="5.5" height="22" fill="#1c760e"/>
<rect x="129.2" y="836.1" width="1.8" height="22" fill="#0b6b0b"/>
<rect x="132.6" y="836.1" width="2.5" height="22" fill="#0b6b0b"/>
<rect x="135.9" y="836.1" width="4.3" height="22" fill="#0b6b0b"/>
<rect x="141.5" y="836.1" width="2.5" height="22" fill="#0b6b0b"/>
<rect x="145.3" y="836.1" width="1.8" height="22" fill="#0b6b0b"/>
<rect x="149.6" y="836.1" width="3.3" height="22" fill="#0b6b0b"/>
<rect x="156.1" y="836.1" width="3.0" height="22" fill="#0b6b0b"/>
<rect x="165.5" y="836.1" width="1.8" height="22" fill="#0b6b0b"/>
<rect x="169.8" y="836.1" width="2.0" height="22" fill="#0b6b0b"/>
<rect x="176.3" y="836.1" width="4.3" height="22" fill="#0b6b0b"/>
<rect x="185.7" y="836.1" width="1.8" height="22" fill="#0b6b0b"/>
<rect x="190.5" y="836.1" width="1.8" height="22" fill="#0b6b0b"/>
<rect x="209.7" y="836.1" width="4.6" height="22" fill="#0b6b0b"/>
<rect x="215.8" y="836.1" width="1.8" height="22" fill="#0b6b0b"/>
<rect x="226.9" y="836.1" width="1.8" height="22" fill="#0b6b0b"/>
<rect x="229.9" y="836.1" width="2.0" height="22" fill="#0b6b0b"/>
<rect x="235.0" y="836.1" width="3.0" height="22" fill="#0b6b0b"/>
<rect x="241.8" y="836.1" width="1.8" height="22" fill="#0b6b0b"/>
<rect x="246.8" y="836.1" width="1.8" height="22" fill="#0b6b0b"/>
<rect x="252.7" y="836.1" width="1.8" height="22" fill="#0b6b0b"/>
<rect x="270.3" y="836.1" width="4.3" height="22" fill="#0b6b0b"/>
<rect x="276.4" y="836.1" width="3.3" height="22" fill="#0b6b0b"/>
<rect x="285.5" y="836.1" width="6.8" height="22" fill="#1c760e"/>
<rect x="294.9" y="836.1" width="3.8" height="22" fill="#0b6b0b"/>
<rect x="302.4" y="836.1" width="1.8" height="22" fill="#0b6b0b"/>
<rect x="305.7" y="836.1" width="4.3" height="22" fill="#0b6b0b"/>
<rect x="313.8" y="836.1" width="1.8" height="22" fill="#0b6b0b"/>
<rect x="329.0" y="836.1" width="3.0" height="22" fill="#0b6b0b"/>
<rect x="334.4" y="836.1" width="1.8" height="22" fill="#0b6b0b"/>
<rect x="357.7" y="836.1" width="1.8" height="22" fill="#0b6b0b"/>
<rect x="397.5" y="836.1" width="1.8" height="22" fill="#0b6b0b"/>
<rect x="405.3" y="836.1" width="2.0" height="22" fill="#0b6b0b"/>
<rect x="411.8" y="836.1" width="1.8" height="22" fill="#0b6b0b"/>
<rect x="424.5" y="836.1" width="1.8" height="22" fill="#0b6b0b"/>
<rect x="433.4" y="836.1" width="1.8" height="22" fill="#0b6b0b"/>
<rect x="436.8" y="836.1" width="2.5" height="22" fill="#0b6b0b"/>
<rect x="442.6" y="836.1" width="4.3" height="22" fill="#0b6b0b"/>
<rect x="452.8" y="836.1" width="4.3" height="22" fill="#348610"/>
<rect x="459.6" y="836.1" width="1.8" height="22" fill="#0b6b0b"/>
<rect x="465.4" y="836.1" width="3.5" height="22" fill="#0b6b0b"/>
<rect x="471.5" y="836.1" width="2.0" height="22" fill="#0b6b0b"/>
<rect x="474.7" y="836.1" width="6.8" height="22" fill="#1c760e"/>
<rect x="483.6" y="836.1" width="2.0" height="22" fill="#0b6b0b"/>
<rect x="487.1" y="836.1" width="1.8" height="22" fill="#0b6b0b"/>
<rect x="490.7" y="836.1" width="2.5" height="22" fill="#0b6b0b"/>
<rect x="494.2" y="836.1" width="4.0" height="22" fill="#0b6b0b"/>
<rect x="503.8" y="836.1" width="7.6" height="22" fill="#1c760e"/>
<rect x="513.9" y="836.1" width="5.6" height="22" fill="#1c760e"/>
<rect x="527.8" y="836.1" width="1.8" height="22" fill="#0b6b0b"/>
<rect x="532.9" y="836.1" width="1.8" height="22" fill="#0b6b0b"/>
<rect x="535.4" y="836.1" width="1.8" height="22" fill="#0b6b0b"/>
<rect x="537.9" y="836.1" width="5.1" height="22" fill="#0b6b0b"/>
<rect x="543.7" y="836.1" width="6.8" height="22" fill="#1c760e"/>
<rect x="553.8" y="836.1" width="6.1" height="22" fill="#1c760e"/>
<rect x="560.6" y="836.1" width="8.3" height="22" fill="#1c760e"/>
<rect x="572.0" y="836.1" width="2.0" height="22" fill="#0b6b0b"/>
<rect x="575.0" y="836.1" width="4.1" height="22" fill="#0b6b0b"/>
<rect x="580.9" y="836.1" width="6.3" height="22" fill="#1c760e"/>
<rect x="587.2" y="836.1" width="7.6" height="22" fill="#348610"/>
<rect x="596.0" y="836.1" width="7.6" height="22" fill="#1c760e"/>
<rect x="605.9" y="836.1" width="1.8" height="22" fill="#0b6b0b"/>
<text x="0.6" y="883.0" font-size="14.2" fill="#1a1a1a" textLength="41.6" lengthAdjust="spacingAndGlyphs">CpB03</text>
<rect x="50.5" y="867.1" width="391.4" height="21" fill="#f0f0f0" stroke="#c8c8c8" stroke-width="1.2"/>
<rect x="51.0" y="866.6" width="2.5" height="22" fill="#0b6b0b"/>
<rect x="54.3" y="866.6" width="3.3" height="22" fill="#0b6b0b"/>
<rect x="60.1" y="866.6" width="1.8" height="22" fill="#0b6b0b"/>
<rect x="77.1" y="866.6" width="1.8" height="22" fill="#0b6b0b"/>
<rect x="79.6" y="866.6" width="2.5" height="22" fill="#0b6b0b"/>
<rect x="85.9" y="866.6" width="3.0" height="22" fill="#0b6b0b"/>
<rect x="93.0" y="866.6" width="1.8" height="22" fill="#0b6b0b"/>
<rect x="99.8" y="866.6" width="1.8" height="22" fill="#0b6b0b"/>
<rect x="106.6" y="866.6" width="3.3" height="22" fill="#0b6b0b"/>
<rect x="111.2" y="866.6" width="2.0" height="22" fill="#0b6b0b"/>
<rect x="117.5" y="866.6" width="7.6" height="22" fill="#1c760e"/>
<rect x="130.9" y="866.6" width="3.5" height="22" fill="#0b6b0b"/>
<rect x="145.3" y="866.6" width="1.8" height="22" fill="#0b6b0b"/>
<rect x="149.4" y="866.6" width="1.8" height="22" fill="#0b6b0b"/>
<rect x="155.4" y="866.6" width="3.8" height="22" fill="#0b6b0b"/>
<rect x="159.7" y="866.6" width="5.1" height="22" fill="#0b6b0b"/>
<rect x="165.5" y="866.6" width="6.8" height="22" fill="#1c760e"/>
<rect x="175.6" y="866.6" width="1.8" height="22" fill="#0b6b0b"/>
<rect x="185.7" y="866.6" width="1.8" height="22" fill="#0b6b0b"/>
<rect x="188.2" y="866.6" width="1.8" height="22" fill="#0b6b0b"/>
<rect x="190.9" y="866.6" width="1.8" height="22" fill="#0b6b0b"/>
<rect x="199.6" y="866.6" width="1.8" height="22" fill="#0b6b0b"/>
<rect x="205.9" y="866.6" width="9.3" height="22" fill="#1c760e"/>
<rect x="219.3" y="866.6" width="3.0" height="22" fill="#0b6b0b"/>
<rect x="222.7" y="866.6" width="1.8" height="22" fill="#0b6b0b"/>
<rect x="239.0" y="866.6" width="1.8" height="22" fill="#0b6b0b"/>
<rect x="263.8" y="866.6" width="2.5" height="22" fill="#0b6b0b"/>
<rect x="270.3" y="866.6" width="3.5" height="22" fill="#0b6b0b"/>
<rect x="275.9" y="866.6" width="3.0" height="22" fill="#0b6b0b"/>
<rect x="282.2" y="866.6" width="1.8" height="22" fill="#0b6b0b"/>
<rect x="294.9" y="866.6" width="1.8" height="22" fill="#0b6b0b"/>
<rect x="297.5" y="866.6" width="1.8" height="22" fill="#0b6b0b"/>
<rect x="303.7" y="866.6" width="2.0" height="22" fill="#0b6b0b"/>
<rect x="306.2" y="866.6" width="5.5" height="22" fill="#1c760e"/>
<rect x="312.5" y="866.6" width="1.8" height="22" fill="#0b6b0b"/>
<rect x="315.1" y="866.6" width="1.8" height="22" fill="#0b6b0b"/>
<rect x="317.6" y="866.6" width="1.8" height="22" fill="#0b6b0b"/>
<rect x="322.6" y="866.6" width="1.8" height="22" fill="#0b6b0b"/>
<rect x="328.4" y="866.6" width="4.3" height="22" fill="#0b6b0b"/>
<rect x="334.5" y="866.6" width="3.3" height="22" fill="#0b6b0b"/>
<rect x="339.1" y="866.6" width="3.0" height="22" fill="#0b6b0b"/>
<rect x="348.7" y="866.6" width="1.8" height="22" fill="#0b6b0b"/>
<rect x="358.8" y="866.6" width="1.8" height="22" fill="#0b6b0b"/>
<rect x="366.4" y="866.6" width="2.5" height="22" fill="#0b6b0b"/>
<rect x="369.4" y="866.6" width="7.1" height="22" fill="#1c760e"/>
<rect x="378.2" y="866.6" width="6.3" height="22" fill="#1c760e"/>
<rect x="385.8" y="866.6" width="3.3" height="22" fill="#0b6b0b"/>
<rect x="389.6" y="866.6" width="2.0" height="22" fill="#0b6b0b"/>
<rect x="392.6" y="866.6" width="5.8" height="22" fill="#1c760e"/>
<rect x="399.7" y="866.6" width="7.6" height="22" fill="#1c760e"/>
<rect x="408.5" y="866.6" width="5.8" height="22" fill="#1c760e"/>
<rect x="417.4" y="866.6" width="2.0" height="22" fill="#0b6b0b"/>
<rect x="421.9" y="866.6" width="4.3" height="22" fill="#0b6b0b"/>
<rect x="428.0" y="866.6" width="3.0" height="22" fill="#0b6b0b"/>
<rect x="431.8" y="866.6" width="1.8" height="22" fill="#348610"/>
<rect x="434.3" y="866.6" width="6.8" height="22" fill="#1c760e"/>
<text x="0.6" y="913.5" font-size="14.2" fill="#1a1a1a" textLength="41.6" lengthAdjust="spacingAndGlyphs">CpB04</text>
<rect x="50.5" y="897.6" width="353.6" height="21" fill="#f0f0f0" stroke="#c8c8c8" stroke-width="1.2"/>
<rect x="49.3" y="897.1" width="5.1" height="22" fill="#0b6b0b"/>
<rect x="55.1" y="897.1" width="4.3" height="22" fill="#348610"/>
<rect x="59.4" y="897.1" width="12.6" height="22" fill="#1c760e"/>
<rect x="74.5" y="897.1" width="1.8" height="22" fill="#0b6b0b"/>
<rect x="77.8" y="897.1" width="1.8" height="22" fill="#0b6b0b"/>
<rect x="80.8" y="897.1" width="2.5" height="22" fill="#0b6b0b"/>
<rect x="84.6" y="897.1" width="3.3" height="22" fill="#0b6b0b"/>
<rect x="90.5" y="897.1" width="3.5" height="22" fill="#0b6b0b"/>
<rect x="95.5" y="897.1" width="1.8" height="22" fill="#0b6b0b"/>
<rect x="98.5" y="897.1" width="2.5" height="22" fill="#0b6b0b"/>
<rect x="102.3" y="897.1" width="2.5" height="22" fill="#0b6b0b"/>
<rect x="108.1" y="897.1" width="1.8" height="22" fill="#0b6b0b"/>
<rect x="113.7" y="897.1" width="2.0" height="22" fill="#0b6b0b"/>
<rect x="118.7" y="897.1" width="2.5" height="22" fill="#0b6b0b"/>
<rect x="122.5" y="897.1" width="1.8" height="22" fill="#0b6b0b"/>
<rect x="125.1" y="897.1" width="1.8" height="22" fill="#0b6b0b"/>
<rect x="129.3" y="897.1" width="2.0" height="22" fill="#0b6b0b"/>
<rect x="141.0" y="897.1" width="1.8" height="22" fill="#0b6b0b"/>
<rect x="148.6" y="897.1" width="2.5" height="22" fill="#0b6b0b"/>
<rect x="152.8" y="897.1" width="2.5" height="22" fill="#0b6b0b"/>
<rect x="156.1" y="897.1" width="5.1" height="22" fill="#0b6b0b"/>
<rect x="162.2" y="897.1" width="4.6" height="22" fill="#0b6b0b"/>
<rect x="167.2" y="897.1" width="2.5" height="22" fill="#0b6b0b"/>
<rect x="173.1" y="897.1" width="5.1" height="22" fill="#0b6b0b"/>
<rect x="179.9" y="897.1" width="2.0" height="22" fill="#0b6b0b"/>
<rect x="188.5" y="897.1" width="4.8" height="22" fill="#0b6b0b"/>
<rect x="197.1" y="897.1" width="7.6" height="22" fill="#1c760e"/>
<rect x="211.0" y="897.1" width="2.5" height="22" fill="#0b6b0b"/>
<rect x="219.3" y="897.1" width="1.8" height="22" fill="#0b6b0b"/>
<rect x="221.8" y="897.1" width="1.8" height="22" fill="#0b6b0b"/>
<rect x="233.7" y="897.1" width="1.8" height="22" fill="#0b6b0b"/>
<rect x="238.0" y="897.1" width="2.5" height="22" fill="#348610"/>
<rect x="244.1" y="897.1" width="1.8" height="22" fill="#0b6b0b"/>
<rect x="271.4" y="897.1" width="2.0" height="22" fill="#0b6b0b"/>
<rect x="280.4" y="897.1" width="1.8" height="22" fill="#0b6b0b"/>
<rect x="284.7" y="897.1" width="1.8" height="22" fill="#0b6b0b"/>
<rect x="290.6" y="897.1" width="1.8" height="22" fill="#0b6b0b"/>
<rect x="299.9" y="897.1" width="2.5" height="22" fill="#0b6b0b"/>
<rect x="305.7" y="897.1" width="1.8" height="22" fill="#0b6b0b"/>
<rect x="309.2" y="897.1" width="7.6" height="22" fill="#1c760e"/>
<rect x="319.4" y="897.1" width="2.0" height="22" fill="#0b6b0b"/>
<rect x="323.4" y="897.1" width="1.8" height="22" fill="#0b6b0b"/>
<rect x="329.5" y="897.1" width="2.0" height="22" fill="#0b6b0b"/>
<rect x="344.1" y="897.1" width="4.6" height="22" fill="#0b6b0b"/>
<rect x="351.7" y="897.1" width="6.3" height="22" fill="#1c760e"/>
<rect x="359.3" y="897.1" width="2.5" height="22" fill="#0b6b0b"/>
<rect x="364.1" y="897.1" width="1.8" height="22" fill="#0b6b0b"/>
<rect x="367.9" y="897.1" width="1.8" height="22" fill="#0b6b0b"/>
<rect x="372.9" y="897.1" width="1.8" height="22" fill="#0b6b0b"/>
<rect x="377.5" y="897.1" width="4.6" height="22" fill="#0b6b0b"/>
<rect x="388.3" y="897.1" width="8.8" height="22" fill="#1c760e"/>
<rect x="398.4" y="897.1" width="1.8" height="22" fill="#0b6b0b"/>
<rect x="403.2" y="897.1" width="1.8" height="22" fill="#0b6b0b"/>
<text x="0.6" y="944.0" font-size="14.2" fill="#1a1a1a" textLength="41.6" lengthAdjust="spacingAndGlyphs">CpB05</text>
<rect x="50.5" y="928.1" width="326.2" height="21" fill="#f0f0f0" stroke="#c8c8c8" stroke-width="1.2"/>
<rect x="49.3" y="927.6" width="5.8" height="22" fill="#1c760e"/>
<rect x="55.1" y="927.6" width="4.0" height="22" fill="#348610"/>
<rect x="59.1" y="927.6" width="6.1" height="22" fill="#1c760e"/>
<rect x="68.2" y="927.6" width="2.0" height="22" fill="#0b6b0b"/>
<rect x="71.2" y="927.6" width="2.0" height="22" fill="#0b6b0b"/>
<rect x="74.5" y="927.6" width="4.3" height="22" fill="#0b6b0b"/>
<rect x="80.8" y="927.6" width="3.0" height="22" fill="#0b6b0b"/>
<rect x="86.4" y="927.6" width="8.3" height="22" fill="#1c760e"/>
<rect x="98.0" y="927.6" width="8.1" height="22" fill="#1c760e"/>
<rect x="107.4" y="927.6" width="8.8" height="22" fill="#1c760e"/>
<rect x="116.7" y="927.6" width="4.0" height="22" fill="#0b6b0b"/>
<rect x="122.5" y="927.6" width="1.8" height="22" fill="#0b6b0b"/>
<rect x="125.1" y="927.6" width="1.8" height="22" fill="#0b6b0b"/>
<rect x="128.3" y="927.6" width="2.5" height="22" fill="#0b6b0b"/>
<rect x="137.7" y="927.6" width="5.1" height="22" fill="#0b6b0b"/>
<rect x="143.7" y="927.6" width="1.8" height="22" fill="#0b6b0b"/>
<rect x="149.1" y="927.6" width="3.8" height="22" fill="#0b6b0b"/>
<rect x="154.1" y="927.6" width="2.0" height="22" fill="#0b6b0b"/>
<rect x="159.2" y="927.6" width="2.0" height="22" fill="#0b6b0b"/>
<rect x="163.0" y="927.6" width="5.0" height="22" fill="#0b6b0b"/>
<rect x="169.8" y="927.6" width="7.1" height="22" fill="#1c760e"/>
<rect x="177.8" y="927.6" width="1.8" height="22" fill="#0b6b0b"/>
<rect x="184.9" y="927.6" width="2.0" height="22" fill="#0b6b0b"/>
<rect x="188.2" y="927.6" width="1.8" height="22" fill="#0b6b0b"/>
<rect x="192.0" y="927.6" width="2.5" height="22" fill="#0b6b0b"/>
<rect x="199.1" y="927.6" width="1.8" height="22" fill="#0b6b0b"/>
<rect x="204.6" y="927.6" width="2.5" height="22" fill="#0b6b0b"/>
<rect x="220.3" y="927.6" width="2.0" height="22" fill="#0b6b0b"/>
<rect x="224.9" y="927.6" width="2.0" height="22" fill="#0b6b0b"/>
<rect x="231.2" y="927.6" width="1.8" height="22" fill="#0b6b0b"/>
<rect x="239.3" y="927.6" width="1.8" height="22" fill="#0b6b0b"/>
<rect x="250.6" y="927.6" width="1.8" height="22" fill="#0b6b0b"/>
<rect x="270.3" y="927.6" width="3.0" height="22" fill="#0b6b0b"/>
<rect x="273.9" y="927.6" width="3.3" height="22" fill="#0b6b0b"/>
<rect x="285.5" y="927.6" width="3.0" height="22" fill="#0b6b0b"/>
<rect x="289.8" y="927.6" width="6.8" height="22" fill="#1c760e"/>
<rect x="299.9" y="927.6" width="8.3" height="22" fill="#1c760e"/>
<rect x="319.4" y="927.6" width="2.0" height="22" fill="#0b6b0b"/>
<rect x="324.4" y="927.6" width="3.3" height="22" fill="#0b6b0b"/>
<rect x="329.5" y="927.6" width="2.0" height="22" fill="#0b6b0b"/>
<rect x="331.8" y="927.6" width="1.8" height="22" fill="#0b6b0b"/>
<rect x="346.6" y="927.6" width="2.0" height="22" fill="#0b6b0b"/>
<rect x="351.2" y="927.6" width="3.5" height="22" fill="#0b6b0b"/>
<rect x="361.8" y="927.6" width="3.8" height="22" fill="#0b6b0b"/>
<rect x="366.4" y="927.6" width="8.1" height="22" fill="#1c760e"/>
<rect x="375.4" y="927.6" width="1.8" height="22" fill="#0b6b0b"/>
<text x="0.6" y="974.5" font-size="14.2" fill="#1a1a1a" textLength="41.6" lengthAdjust="spacingAndGlyphs">CpB06</text>
<rect x="50.5" y="958.6" width="332.1" height="21" fill="#f0f0f0" stroke="#c8c8c8" stroke-width="1.2"/>
<rect x="49.3" y="958.1" width="4.3" height="22" fill="#0b6b0b"/>
<rect x="54.3" y="958.1" width="1.8" height="22" fill="#0b6b0b"/>
<rect x="57.6" y="958.1" width="1.8" height="22" fill="#0b6b0b"/>
<rect x="61.9" y="958.1" width="1.8" height="22" fill="#0b6b0b"/>
<rect x="64.4" y="958.1" width="4.3" height="22" fill="#0b6b0b"/>
<rect x="72.0" y="958.1" width="1.8" height="22" fill="#0b6b0b"/>
<rect x="76.3" y="958.1" width="4.5" height="22" fill="#0b6b0b"/>
<rect x="82.9" y="958.1" width="3.0" height="22" fill="#0b6b0b"/>
<rect x="93.0" y="958.1" width="4.3" height="22" fill="#0b6b0b"/>
<rect x="98.9" y="958.1" width="1.8" height="22" fill="#0b6b0b"/>
<rect x="101.6" y="958.1" width="2.0" height="22" fill="#0b6b0b"/>
<rect x="106.1" y="958.1" width="3.0" height="22" fill="#0b6b0b"/>
<rect x="113.7" y="958.1" width="2.0" height="22" fill="#0b6b0b"/>
<rect x="121.6" y="958.1" width="1.8" height="22" fill="#0b6b0b"/>
<rect x="131.9" y="958.1" width="2.0" height="22" fill="#0b6b0b"/>
<rect x="135.2" y="958.1" width="4.3" height="22" fill="#0b6b0b"/>
<rect x="156.1" y="958.1" width="1.8" height="22" fill="#0b6b0b"/>
<rect x="162.2" y="958.1" width="3.3" height="22" fill="#0b6b0b"/>
<rect x="169.8" y="958.1" width="2.0" height="22" fill="#0b6b0b"/>
<rect x="178.1" y="958.1" width="3.3" height="22" fill="#0b6b0b"/>
<rect x="185.4" y="958.1" width="1.8" height="22" fill="#0b6b0b"/>
<rect x="187.7" y="958.1" width="1.8" height="22" fill="#0b6b0b"/>
<rect x="189.8" y="958.1" width="1.8" height="22" fill="#0b6b0b"/>
<rect x="191.7" y="958.1" width="1.8" height="22" fill="#0b6b0b"/>
<rect x="193.6" y="958.1" width="1.8" height="22" fill="#0b6b0b"/>
<rect x="230.3" y="958.1" width="1.8" height="22" fill="#0b6b0b"/>
<rect x="236.6" y="958.1" width="1.8" height="22" fill="#0b6b0b"/>
<rect x="237.7" y="958.1" width="1.8" height="22" fill="#0b6b0b"/>
<rect x="243.1" y="958.1" width="2.0" height="22" fill="#0b6b0b"/>
<rect x="247.6" y="958.1" width="2.5" height="22" fill="#0b6b0b"/>
<rect x="251.1" y="958.1" width="2.0" height="22" fill="#0b6b0b"/>
<rect x="253.7" y="958.1" width="2.0" height="22" fill="#0b6b0b"/>
<rect x="268.7" y="958.1" width="1.8" height="22" fill="#0b6b0b"/>
<rect x="272.9" y="958.1" width="1.8" height="22" fill="#0b6b0b"/>
<rect x="275.9" y="958.1" width="2.0" height="22" fill="#0b6b0b"/>
<rect x="283.0" y="958.1" width="1.8" height="22" fill="#0b6b0b"/>
<rect x="288.0" y="958.1" width="1.8" height="22" fill="#0b6b0b"/>
<rect x="292.3" y="958.1" width="5.8" height="22" fill="#1c760e"/>
<rect x="302.4" y="958.1" width="1.8" height="22" fill="#0b6b0b"/>
<rect x="313.3" y="958.1" width="1.8" height="22" fill="#0b6b0b"/>
<rect x="316.7" y="958.1" width="1.8" height="22" fill="#0b6b0b"/>
<rect x="325.2" y="958.1" width="3.3" height="22" fill="#348610"/>
<rect x="331.5" y="958.1" width="7.1" height="22" fill="#1c760e"/>
<rect x="342.9" y="958.1" width="1.8" height="22" fill="#0b6b0b"/>
<rect x="347.1" y="958.1" width="6.6" height="22" fill="#348610"/>
<rect x="354.2" y="958.1" width="11.4" height="22" fill="#1c760e"/>
<rect x="366.9" y="958.1" width="4.5" height="22" fill="#0b6b0b"/>
<rect x="372.4" y="958.1" width="5.8" height="22" fill="#1c760e"/>
<rect x="381.1" y="958.1" width="1.8" height="22" fill="#0b6b0b"/>
<text x="0.6" y="1004.9" font-size="14.2" fill="#1a1a1a" textLength="41.6" lengthAdjust="spacingAndGlyphs">CpB07</text>
<rect x="50.5" y="989.0" width="206.3" height="21" fill="#f0f0f0" stroke="#c8c8c8" stroke-width="1.2"/>
<rect x="67.7" y="988.5" width="1.8" height="22" fill="#0b6b0b"/>
<rect x="81.2" y="988.5" width="1.8" height="22" fill="#0b6b0b"/>
<rect x="91.0" y="988.5" width="8.8" height="22" fill="#1c760e"/>
<rect x="103.1" y="988.5" width="1.8" height="22" fill="#0b6b0b"/>
<rect x="108.6" y="988.5" width="2.0" height="22" fill="#0b6b0b"/>
<rect x="112.4" y="988.5" width="1.8" height="22" fill="#0b6b0b"/>
<rect x="115.0" y="988.5" width="3.3" height="22" fill="#0b6b0b"/>
<rect x="120.8" y="988.5" width="1.8" height="22" fill="#0b6b0b"/>
<rect x="123.8" y="988.5" width="2.0" height="22" fill="#0b6b0b"/>
<rect x="136.4" y="988.5" width="2.5" height="22" fill="#0b6b0b"/>
<rect x="139.5" y="988.5" width="2.5" height="22" fill="#0b6b0b"/>
<rect x="143.5" y="988.5" width="1.8" height="22" fill="#0b6b0b"/>
<rect x="146.9" y="988.5" width="1.8" height="22" fill="#0b6b0b"/>
<rect x="150.3" y="988.5" width="2.5" height="22" fill="#0b6b0b"/>
<rect x="154.1" y="988.5" width="2.0" height="22" fill="#0b6b0b"/>
<rect x="157.9" y="988.5" width="4.3" height="22" fill="#0b6b0b"/>
<rect x="163.0" y="988.5" width="3.8" height="22" fill="#0b6b0b"/>
<rect x="168.8" y="988.5" width="1.8" height="22" fill="#0b6b0b"/>
<rect x="171.8" y="988.5" width="2.0" height="22" fill="#0b6b0b"/>
<rect x="175.6" y="988.5" width="1.8" height="22" fill="#0b6b0b"/>
<rect x="178.1" y="988.5" width="2.5" height="22" fill="#0b6b0b"/>
<rect x="181.9" y="988.5" width="3.8" height="22" fill="#0b6b0b"/>
<rect x="186.4" y="988.5" width="2.5" height="22" fill="#0b6b0b"/>
<rect x="190.8" y="988.5" width="1.8" height="22" fill="#0b6b0b"/>
<rect x="194.5" y="988.5" width="10.1" height="22" fill="#1c760e"/>
<rect x="205.9" y="988.5" width="2.5" height="22" fill="#0b6b0b"/>
<rect x="209.2" y="988.5" width="5.6" height="22" fill="#348610"/>
<rect x="215.3" y="988.5" width="7.1" height="22" fill="#1c760e"/>
<rect x="224.3" y="988.5" width="8.1" height="22" fill="#1c760e"/>
<rect x="233.7" y="988.5" width="4.3" height="22" fill="#0b6b0b"/>
<rect x="238.0" y="988.5" width="7.6" height="22" fill="#1c760e"/>
<rect x="245.6" y="988.5" width="11.4" height="22" fill="#348610"/>
<rect x="686.5" y="656.5" width="33.1" height="29.6" fill="#f0f0f0"/>
<text transform="translate(724.6,680.7) scale(1.07,1)" font-size="23">0</text>
<rect x="686.5" y="685.6" width="33.1" height="29.6" fill="#006400"/>
<text transform="translate(724.6,709.6) scale(1.07,1)" font-size="23">1</text>
<rect x="686.5" y="714.7" width="33.1" height="29.6" fill="#2d7b0c"/>
<text transform="translate(724.6,738.5) scale(1.07,1)" font-size="23">6</text>
<rect x="686.5" y="743.8" width="33.1" height="29.6" fill="#5f9a00"/>
<text transform="translate(724.6,767.5) scale(1.07,1)" font-size="23">11</text>
<rect x="686.5" y="772.9" width="33.1" height="29.6" fill="#9bb800"/>
<text transform="translate(724.6,796.4) scale(1.07,1)" font-size="23">16</text>
<rect x="686.5" y="802.0" width="33.1" height="29.6" fill="#d0dc00"/>
<text transform="translate(724.6,825.3) scale(1.07,1)" font-size="23">21</text>
<rect x="686.5" y="831.1" width="33.1" height="29.6" fill="#fff200"/>
<text transform="translate(724.6,854.2) scale(1.07,1)" font-size="23">26</text>
<rect x="686.5" y="860.2" width="33.1" height="29.6" fill="#ffbe00"/>
<text transform="translate(724.6,883.1) scale(1.07,1)" font-size="23">31</text>
<rect x="686.5" y="889.3" width="33.1" height="29.6" fill="#ff8c00"/>
<text transform="translate(724.6,912.1) scale(1.07,1)" font-size="23">36</text>
<rect x="686.5" y="918.4" width="33.1" height="29.6" fill="#ff5a00"/>
<text transform="translate(724.6,941.0) scale(1.07,1)" font-size="23">41</text>
<rect x="686.5" y="947.5" width="33.1" height="29.6" fill="#ff2800"/>
<text transform="translate(724.6,969.9) scale(1.07,1)" font-size="23">46</text>
<rect x="686.5" y="976.6" width="33.1" height="29.6" fill="#ff0000"/>
<text transform="translate(724.6,998.8) scale(1.07,1)" font-size="23">50</text>
</svg></body></html>
